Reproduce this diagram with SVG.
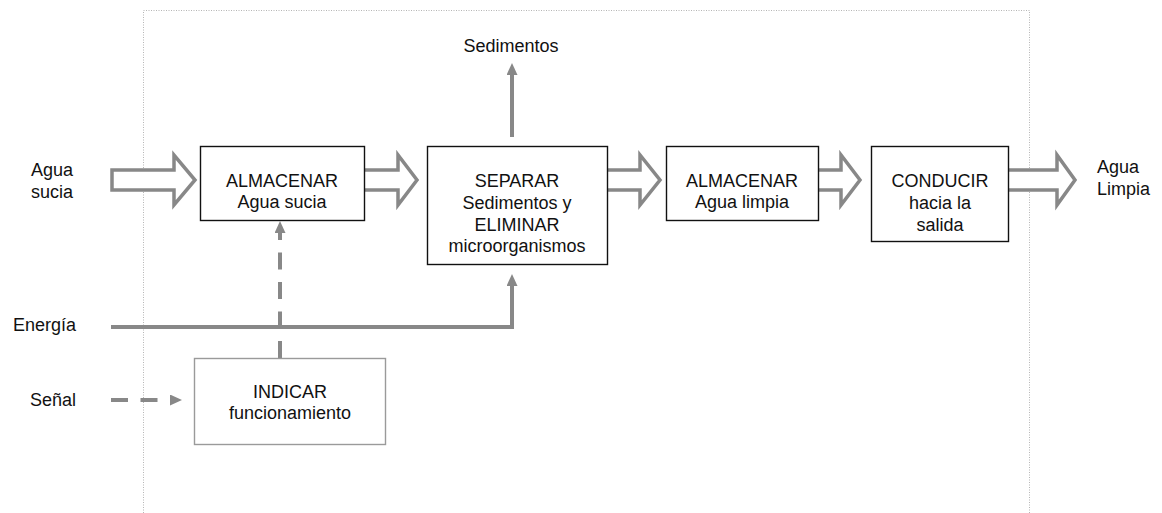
<svg xmlns="http://www.w3.org/2000/svg" width="1162" height="513" viewBox="0 0 1162 513">
  <style>
    text { font-family: "Liberation Sans", Arial, sans-serif; font-size: 18px; fill: #111; }
    .c { text-anchor: middle; }
    .e { text-anchor: end; }
    .box { fill: #fff; stroke: #111; stroke-width: 1.4; }
    .box-soft { fill: #fff; stroke: #9a9a9a; stroke-width: 1.4; }
    .flow { fill: #fff; stroke: #888; stroke-width: 3.5; stroke-linejoin: miter; }
    .line { fill: none; stroke: #888; stroke-width: 4; }
    .dash { fill: none; stroke: #888; stroke-width: 4; stroke-dasharray: 17 12.5; }
    .frame { fill: none; stroke: #b5b5b5; stroke-width: 1; stroke-dasharray: 1 1.5; }
  </style>
  <defs>
    <marker id="tip" markerUnits="userSpaceOnUse" markerWidth="12" markerHeight="12" refX="0" refY="5.5" orient="auto">
      <path d="M0,0 L12,5.5 L0,11 Z" fill="#888"/>
    </marker>
  </defs>

  <!-- system boundary -->
  <path class="frame" d="M143.5,513 V10.5 H1029.5 V513"/>

  <!-- connectors -->
  <g id="connectors">
    <!-- material flow (hollow arrows) -->
    <polygon class="flow" points="112,170 174,170 174,155 195,180 174,205 174,190 112,190"/>
    <polygon class="flow" points="362,170 398,170 398,155 417,180 398,205 398,190 362,190"/>
    <polygon class="flow" points="605,170 640,170 640,155 660,180 640,205 640,190 605,190"/>
    <polygon class="flow" points="816,170 841,170 841,155 860,180 841,205 841,190 816,190"/>
    <polygon class="flow" points="1006,170 1057,170 1057,155 1075,180 1057,205 1057,190 1006,190"/>
    <!-- sediments out -->
    <line class="line" x1="512" y1="137" x2="512" y2="75" marker-end="url(#tip)"/>
    <!-- energy in -->
    <path class="line" d="M111,327 H512 V286" marker-end="url(#tip)"/>
    <!-- signal paths -->
    <line class="dash" x1="280" y1="358" x2="280" y2="233" marker-end="url(#tip)"/>
    <line class="dash" x1="111" y1="400" x2="170" y2="400" stroke-dasharray="17 12" marker-end="url(#tip)"/>
  </g>

  <!-- external labels -->
  <g id="labels">
    <text x="31" y="176">Agua</text>
    <text x="31" y="198">sucia</text>
    <text class="c" x="511" y="52">Sedimentos</text>
    <text class="e" x="76" y="331">Energía</text>
    <text class="e" x="76" y="406">Señal</text>
    <text x="1097" y="173">Agua</text>
    <text x="1097" y="195">Limpia</text>
  </g>

  <g id="almacenar-sucia">
    <rect class="box" x="200.5" y="146.5" width="164" height="74"/>
    <text class="c" x="282" y="187">ALMACENAR</text>
    <text class="c" x="282" y="208">Agua sucia</text>
  </g>

  <g id="separar">
    <rect class="box" x="427.5" y="146.5" width="180" height="118"/>
    <text class="c" x="517" y="187">SEPARAR</text>
    <text class="c" x="517" y="209">Sedimentos y</text>
    <text class="c" x="517" y="231">ELIMINAR</text>
    <text class="c" x="517" y="252">microorganismos</text>
  </g>

  <g id="almacenar-limpia">
    <rect class="box" x="666.5" y="146.5" width="152" height="74"/>
    <text class="c" x="742" y="187">ALMACENAR</text>
    <text class="c" x="742" y="208">Agua limpia</text>
  </g>

  <g id="conducir">
    <rect class="box" x="871.5" y="146.5" width="137" height="95"/>
    <text class="c" x="940" y="187">CONDUCIR</text>
    <text class="c" x="940" y="209">hacia la</text>
    <text class="c" x="940" y="231">salida</text>
  </g>

  <g id="indicar">
    <rect class="box-soft" x="194.5" y="358.5" width="191" height="86"/>
    <text class="c" x="290" y="398">INDICAR</text>
    <text class="c" x="290" y="419">funcionamiento</text>
  </g>
</svg>
